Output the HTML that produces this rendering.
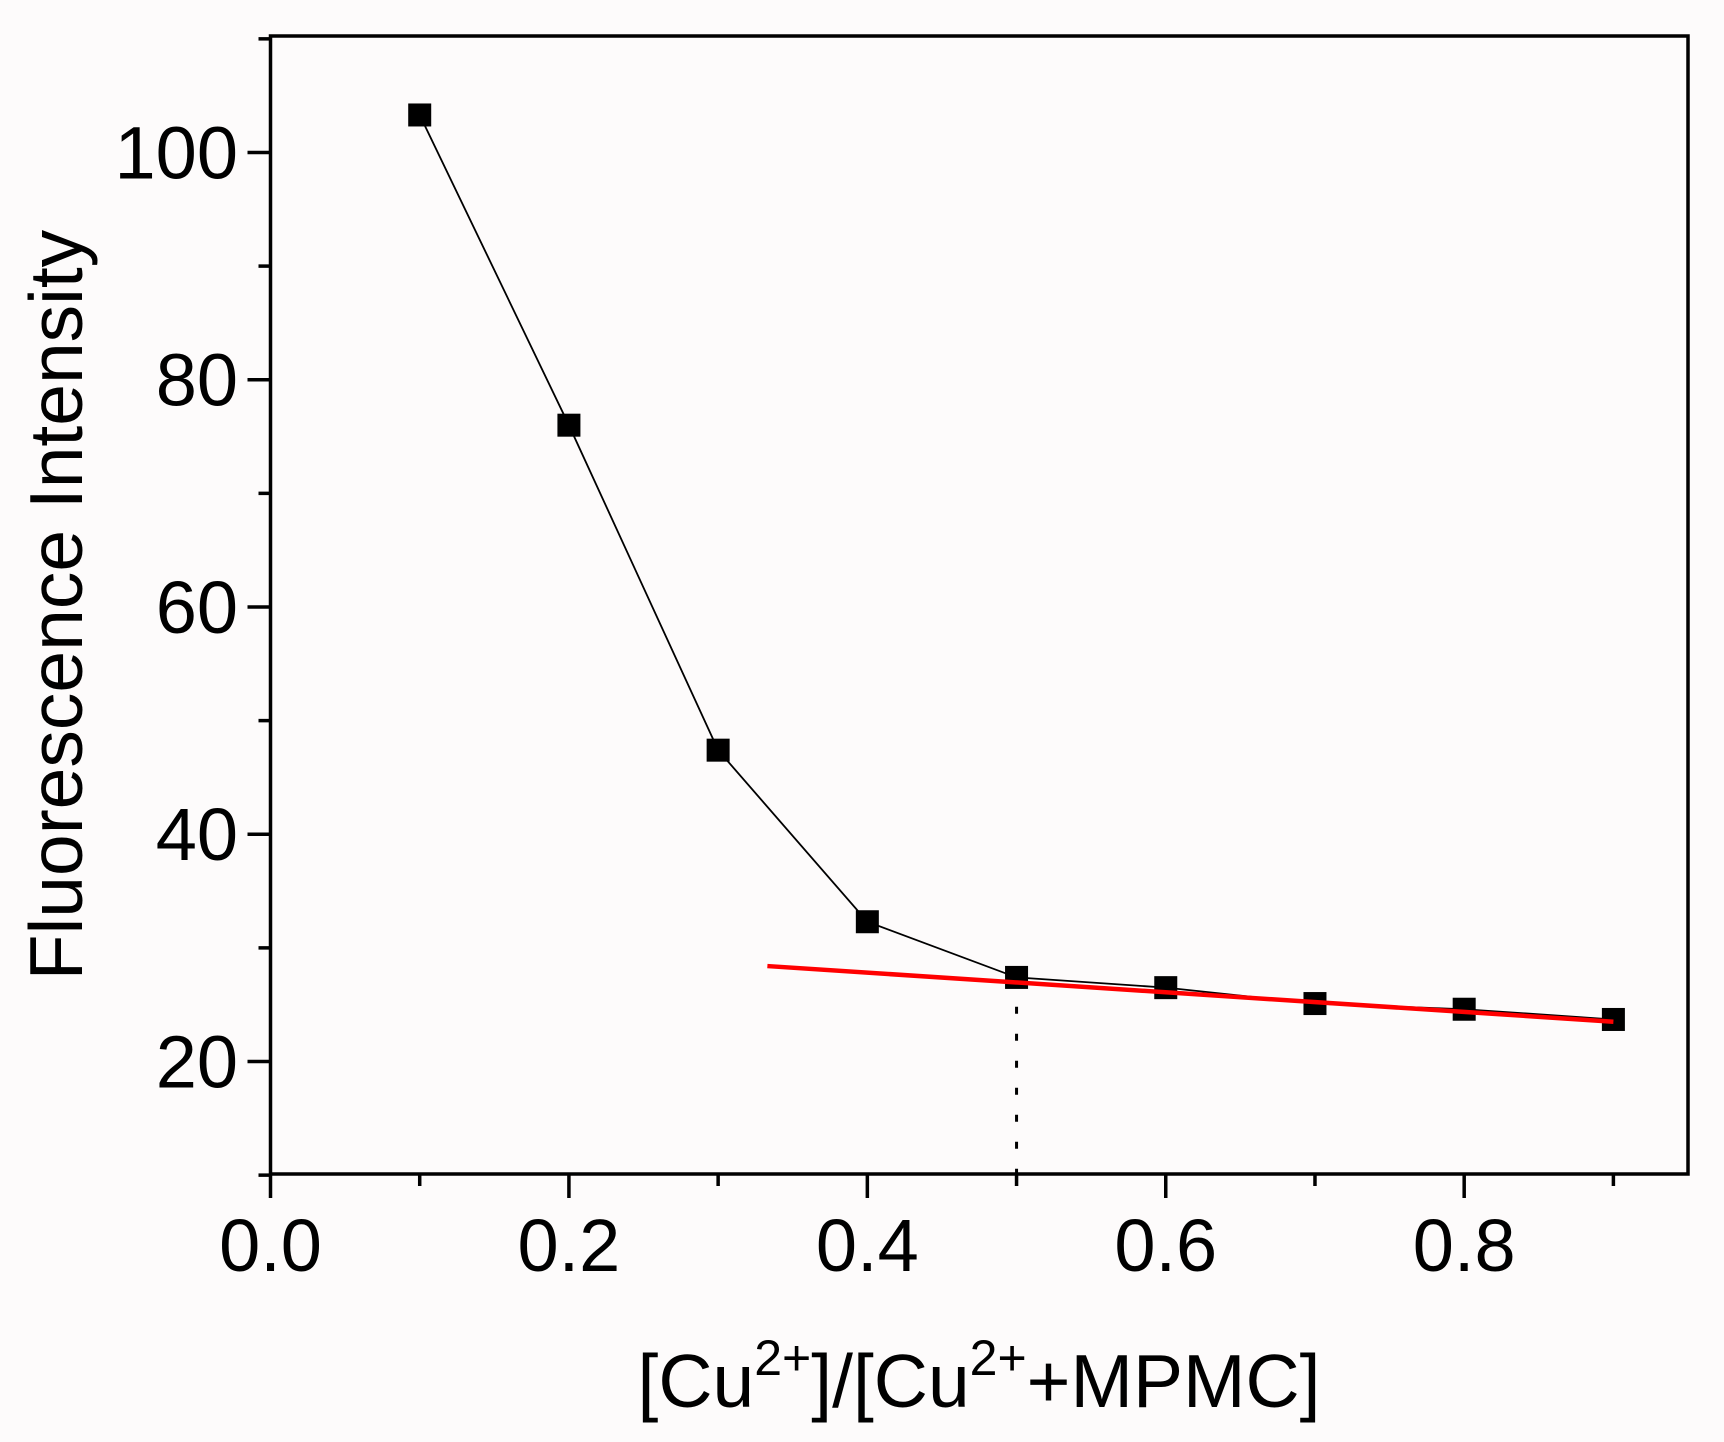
<!DOCTYPE html>
<html><head><meta charset="utf-8"><style>
html,body{margin:0;padding:0;background:#fdfbfb;}
svg{display:block;font-family:"Liberation Sans",Arial,sans-serif;}
</style></head><body>
<svg id="chart" width="1724" height="1442" viewBox="0 0 1724 1442" xmlns="http://www.w3.org/2000/svg">
<rect x="0" y="0" width="1724" height="1442" fill="#fdfbfb"/>
<g id="plot"></g>
</svg>
<script>
const xValues = [0.1,0.2,0.3,0.4,0.5,0.6,0.7,0.8,0.9];
const yValues = [103.3,76.0,47.4,32.3,27.4,26.5,25.1,24.6,23.7];
const fitX = [0.333,0.9];
const fitY = [28.4,23.5];
const equivX = [0.5];
const equivY = [27.2];
const xTickLabels = ["0.0","0.2","0.4","0.6","0.8"];
const xTickVals = [0,0.2,0.4,0.6,0.8];
const yTickLabels = ["20","40","60","80","100"];
const yTickVals = [20,40,60,80,100];

const L=270.5,R=1688,T=36,B=1174;
const X0=0,X1=0.95,Y0=10.1,Y1=110.25;
const sx=v=>L+(v-X0)/(X1-X0)*(R-L);
const sy=v=>B-(v-Y0)/(Y1-Y0)*(B-T);
const NS="http://www.w3.org/2000/svg";
const g=document.getElementById('plot');
function mk(tag,attrs,parent){const e=document.createElementNS(NS,tag);for(const k in attrs)e.setAttribute(k,attrs[k]);(parent||g).appendChild(e);return e;}

let e=mk('rect',{x:L,y:T,width:R-L,height:B-T,fill:'none',stroke:'#000','stroke-width':3.5});



for(let v=0;v<=0.9001;v+=0.1){
  const major=Math.round(v*10)%2===0;
  e=mk('line',{x1:sx(v),x2:sx(v),y1:B,y2:B+(major?24:12),stroke:'#000','stroke-width':3.5});
  
  
}
xTickVals.forEach((v,i)=>{
  e=mk('text',{x:sx(v),y:1271,'font-size':74,'text-anchor':'middle',fill:'#000'});
  e.textContent=xTickLabels[i];
  
  
});
for(let v=10;v<=110;v+=10){
  const major=v%20===0;
  e=mk('line',{x1:L-(major?23:12),x2:L,y1:sy(v),y2:sy(v),stroke:'#000','stroke-width':3.5});
  
  
}
yTickVals.forEach((v,i)=>{
  e=mk('text',{x:238,y:sy(v)+26,'font-size':74,'text-anchor':'end',fill:'#000'});
  e.textContent=yTickLabels[i];
  
  
});

e=mk('polyline',{points:xValues.map((x,i)=>sx(x)+','+sy(yValues[i])).join(' '),fill:'none',stroke:'#000','stroke-width':1.8});



e=mk('line',{x1:sx(equivX[0]),y1:sy(equivY[0]),x2:sx(equivX[0]),y2:B,stroke:'#000','stroke-width':3,'stroke-dasharray':'7 20'});



xValues.forEach((x,i)=>{
  e=mk('rect',{x:sx(x)-11.5,y:sy(yValues[i])-11.5,width:23,height:23,fill:'#000'});
  
  
});

e=mk('line',{x1:sx(fitX[0]),y1:sy(fitY[0]),x2:sx(fitX[1]),y2:sy(fitY[1]),stroke:'#ff0000','stroke-width':4.5});


</script>
<svg style="position:absolute;left:0;top:0" width="1724" height="1442">
<text transform="translate(82,605) rotate(-90)" font-family="Liberation Sans, Arial, sans-serif" font-size="75" text-anchor="middle">Fluorescence Intensity</text>
<text x="979" y="1407" font-family="Liberation Sans, Arial, sans-serif" font-size="75" text-anchor="middle">[Cu<tspan font-size="50" dy="-32">2+</tspan><tspan dy="32">]/[Cu</tspan><tspan font-size="50" dy="-32">2+</tspan><tspan dy="32">+MPMC]</tspan></text>
</svg>
</body></html>
